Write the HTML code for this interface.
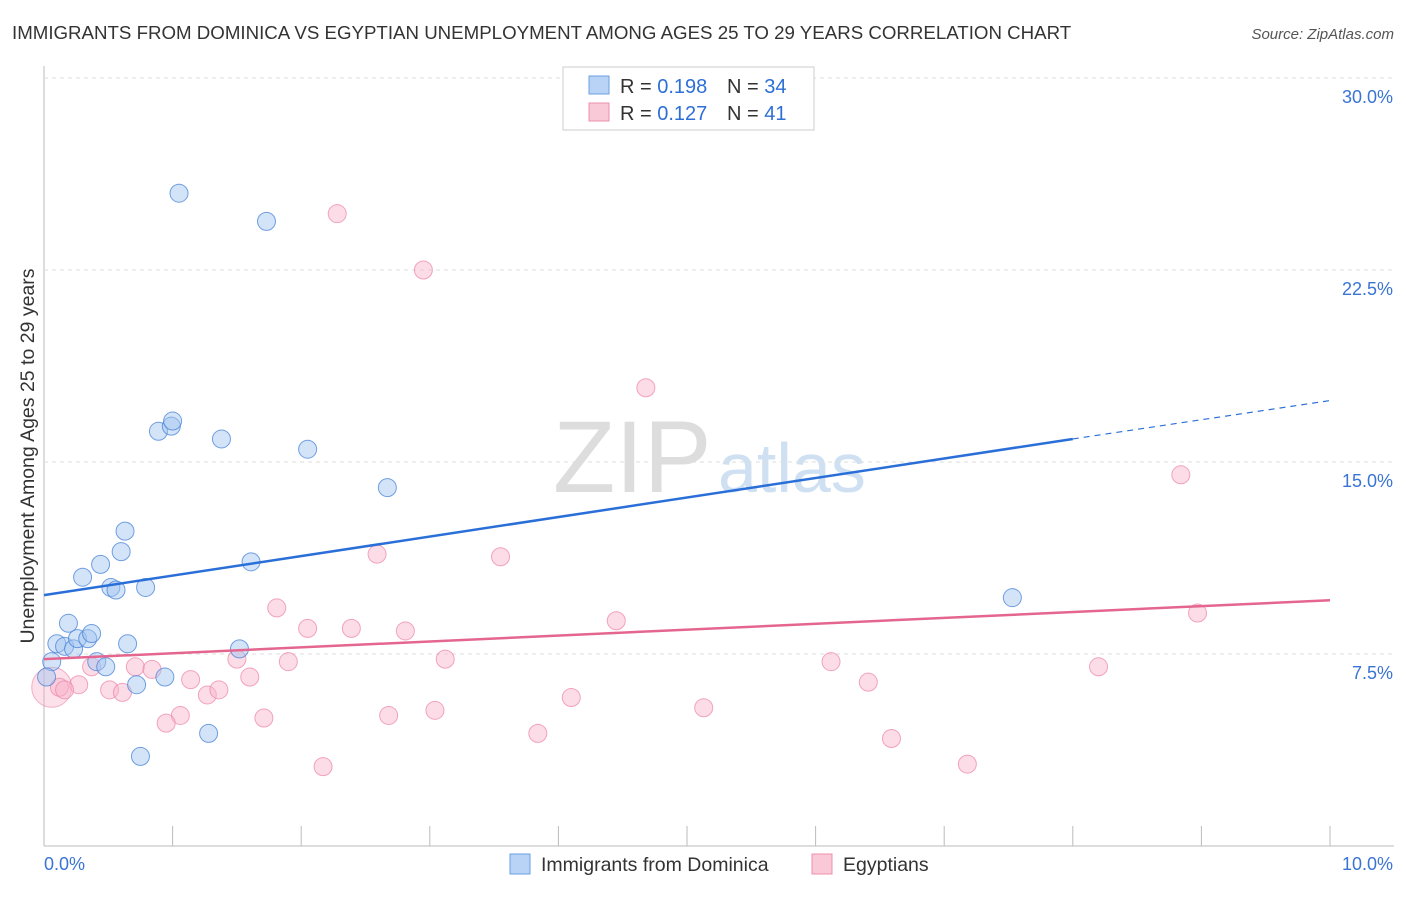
<!DOCTYPE html>
<html><head><meta charset="utf-8"><style>
body{margin:0;background:#fff;font-family:"Liberation Sans",sans-serif}
svg text{font-family:"Liberation Sans",sans-serif}
</style></head><body>
<svg id="c" width="1406" height="892">
<text x="553" y="492" font-size="102" fill="#ddd" font-family="Liberation Serif">ZIP</text>
<text x="718" y="492" font-size="70" fill="#cfe0f3">atlas</text>
<text x="12" y="39" font-size="18.7" fill="#333">IMMIGRANTS FROM DOMINICA VS EGYPTIAN UNEMPLOYMENT AMONG AGES 25 TO 29 YEARS CORRELATION CHART</text>
<text x="1394" y="39" font-size="15" fill="#555" text-anchor="end" font-style="italic">Source: ZipAtlas.com</text>
<text x="34" y="456" font-size="19.5" fill="#333" text-anchor="middle" transform="rotate(-90 34 456)">Unemployment Among Ages 25 to 29 years</text>
<g id="grid"></g><g id="pts"></g><g id="lines"></g>
<g>
<rect x="563" y="67" width="251" height="63" fill="#fff" stroke="#ccc"/>
<rect x="589" y="76" width="20" height="18" fill="#b8d3f5" stroke="#6a9fe0"/>
<rect x="589" y="103" width="20" height="18" fill="#fac9d7" stroke="#ee90ac"/>
<text x="620" y="93" font-size="20" fill="#333">R = <tspan fill="#2d6fd6">0.198</tspan></text>
<text x="727" y="93" font-size="20" fill="#333">N = <tspan fill="#2d6fd6">34</tspan></text>
<text x="620" y="120" font-size="20" fill="#333">R = <tspan fill="#2d6fd6">0.127</tspan></text>
<text x="727" y="120" font-size="20" fill="#333">N =  <tspan fill="#2d6fd6">41</tspan></text>
</g>
<g>
<rect x="510" y="854" width="20" height="20" fill="#b8d3f5" stroke="#6a9fe0"/>
<text x="541" y="871" font-size="19.5" fill="#333">Immigrants from Dominica</text>
<rect x="812" y="854" width="20" height="20" fill="#fac9d7" stroke="#ee90ac"/>
<text x="843" y="871" font-size="19.5" fill="#333">Egyptians</text>
</g>
</svg>
<script>
const yTicks=[7.5,15,22.5,30];
const yTickLabels=["7.5%","15.0%","22.5%","30.0%"];
const xTicks=[0,1,2,3,4,5,6,7,8,9,10];
const domX=[1.05,1.73,0.89,0.99,1.0,1.38,2.05,2.67,0.63,0.60,0.30,0.44,0.52,0.56,0.79,1.61,0.19,0.10,0.16,0.23,0.26,0.34,0.37,0.65,1.52,0.06,0.41,0.48,0.02,0.72,0.94,1.28,0.75,7.53];
const domY=[25.5,24.4,16.2,16.4,16.6,15.9,15.5,14.0,12.3,11.5,10.5,11.0,10.1,10.0,10.1,11.1,8.7,7.9,7.8,7.7,8.1,8.1,8.3,7.9,7.7,7.2,7.2,7.0,6.6,6.3,6.6,4.4,3.5,9.7];
const egyX=[2.28,2.95,4.68,8.84,2.59,3.55,8.97,1.81,2.05,2.39,2.81,4.45,3.12,1.50,1.90,6.12,8.20,0.71,0.84,0.37,1.14,1.60,6.41,0.27,0.12,0.16,0.51,0.61,1.27,1.36,4.10,3.04,2.68,1.71,1.06,0.95,5.13,3.84,6.59,2.17,7.18];
const egyY=[24.7,22.5,17.9,14.5,11.4,11.3,9.1,9.3,8.5,8.5,8.4,8.8,7.3,7.3,7.2,7.2,7.0,7.0,6.9,7.0,6.5,6.6,6.4,6.3,6.2,6.1,6.1,6.0,5.9,6.1,5.8,5.3,5.1,5.0,5.1,4.8,5.4,4.4,4.2,3.1,3.2];
const domTrend=[0,9.8,8,15.9,10,17.4];
const egyTrend=[0,7.3,10,9.6];
const NS="http://www.w3.org/2000/svg";
const X=v=>44+v*128.6, Y=v=>846-v*25.6;
function mk(t,a,p){const e=document.createElementNS(NS,t);for(const k in a)e.setAttribute(k,a[k]);p.appendChild(e);return e;}
const g=document.getElementById('grid');
mk('line',{x1:44,y1:66,x2:44,y2:846,stroke:'#bbb'},g);
mk('line',{x1:44,y1:846,x2:1394,y2:846,stroke:'#bbb'},g);
yTicks.forEach((t,i)=>{
 const l=mk('line',{x1:44,y1:Y(t),x2:1394,y2:Y(t),stroke:'#ddd','stroke-dasharray':'4,4'},g);
 
 
 const tx=mk('text',{x:1393,y:Y(t)+25,'font-size':18,fill:'#3a74d4','text-anchor':'end'},g);
 tx.textContent=yTickLabels[i];
 
 
});
xTicks.forEach(t=>{
 const l=mk('line',{x1:X(t),y1:826,x2:X(t),y2:846,stroke:'#bbb'},g);
 
 
});
let a=mk('text',{x:44,y:870,'font-size':18,fill:'#3a74d4'},g);a.textContent="0.0%";


a=mk('text',{x:1393,y:870,'font-size':18,fill:'#3a74d4','text-anchor':'end'},g);a.textContent="10.0%";


const p=document.getElementById('pts');
mk('circle',{cx:X(0.06),cy:Y(6.2),r:20,fill:'rgba(246,170,195,0.35)',stroke:'rgba(236,130,165,0.6)'},p);
egyX.forEach((x,i)=>{
 const c=mk('circle',{cx:X(x),cy:Y(egyY[i]),r:9,fill:'rgba(248,180,202,0.45)',stroke:'rgba(236,130,165,0.7)'},p);
 
 
});
domX.forEach((x,i)=>{
 const c=mk('circle',{cx:X(x),cy:Y(domY[i]),r:9,fill:'rgba(160,196,240,0.45)',stroke:'rgba(70,130,215,0.75)'},p);
 
 
});
const L=document.getElementById('lines');
let t=mk('line',{x1:X(domTrend[0]),y1:Y(domTrend[1]),x2:X(domTrend[2]),y2:Y(domTrend[3]),stroke:'#2a6fd8','stroke-width':2.5},L);


t=mk('line',{x1:X(domTrend[2]),y1:Y(domTrend[3]),x2:X(domTrend[4]),y2:Y(domTrend[5]),stroke:'#2a6fd8','stroke-width':1.2,'stroke-dasharray':'6,5'},L);


t=mk('line',{x1:X(egyTrend[0]),y1:Y(egyTrend[1]),x2:X(egyTrend[2]),y2:Y(egyTrend[3]),stroke:'#e4668f','stroke-width':2.5},L);


</script>
</body></html>
